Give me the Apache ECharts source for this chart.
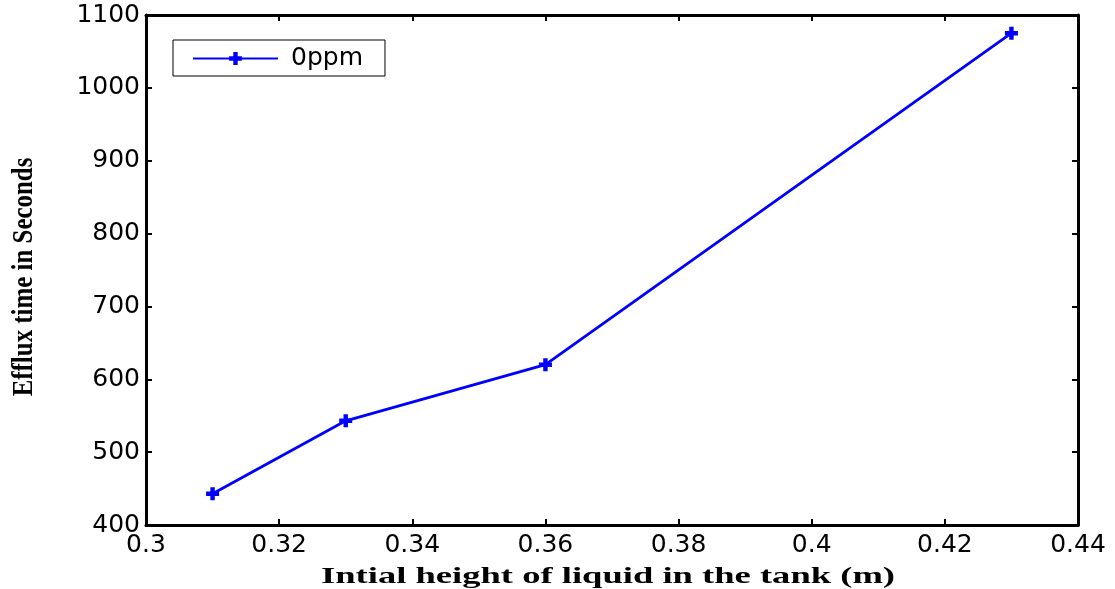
<!DOCTYPE html>
<html><head><meta charset="utf-8">
<script src="https://cdn.jsdelivr.net/npm/echarts@6/dist/echarts.min.js"></script>
<style>html,body{margin:0;padding:0;background:#fff}#c{width:1115px;height:589px}</style>
</head><body><div id="c"></div>
<script>
const heights = [0.31, 0.33, 0.36, 0.43];
const effluxTimes = [443, 543, 620, 1075];
const seriesName = '0ppm';
const xTitle = 'Intial height of liquid in the tank (m)';
const yTitle = 'Efflux time in Seconds';

const chart = echarts.init(document.getElementById('c'));
const marker = 'path://M3.3,0H6.7V3.3H10V6.7H6.7V10H3.3V6.7H0V3.3H3.3Z';
const labelFont = {fontFamily: 'DejaVu Sans', fontSize: 25, color: '#000'};
chart.setOption({
  animation: false,
  backgroundColor: '#fff',
  grid: {left: 146, right: 37, top: 15, bottom: 64},
  legend: {
    left: 173, top: 40,
    data: [seriesName],
    itemWidth: 85, itemHeight: 16, itemGap: 0,
    padding: [6, 22, 5, 19],
    borderColor: '#000', borderWidth: 1,
    textStyle: {fontFamily: 'DejaVu Sans', fontSize: 25, color: '#000', padding: [0,0,0,8]}
  },
  xAxis: [{
    type: 'value', min: 0.3, max: 0.44, interval: 0.02,
    axisLine: {lineStyle: {color: '#000', width: 3}},
    axisTick: {inside: true, length: 6, lineStyle: {color: '#000', width: 2}},
    axisLabel: Object.assign({margin: 8, formatter: v => String(+v.toFixed(2))}, labelFont),
    splitLine: {show: false}
  }, {
    type: 'value', min: 0.3, max: 0.44, interval: 0.02, position: 'top',
    axisLine: {lineStyle: {color: '#000', width: 3}},
    axisTick: {inside: true, length: 6, lineStyle: {color: '#000', width: 2}},
    axisLabel: {show: false}, splitLine: {show: false}
  }],
  yAxis: [{
    type: 'value', min: 400, max: 1100, interval: 100,
    axisLine: {show: true, lineStyle: {color: '#000', width: 3}},
    axisTick: {show: true, inside: true, length: 6, lineStyle: {color: '#000', width: 2}},
    axisLabel: Object.assign({margin: 6, formatter: v => String(v)}, labelFont),
    splitLine: {show: false}
  }, {
    type: 'value', min: 400, max: 1100, interval: 100, position: 'right',
    axisLine: {show: true, lineStyle: {color: '#000', width: 3}},
    axisTick: {show: true, inside: true, length: 6, lineStyle: {color: '#000', width: 2}},
    axisLabel: {show: false}, splitLine: {show: false}
  }],
  series: [{
    name: seriesName, type: 'line',
    data: heights.map((h, i) => [h, effluxTimes[i]]),
    symbol: marker, symbolSize: 13, showSymbol: true,
    lineStyle: {color: '#0000ff', width: 2.8},
    itemStyle: {color: '#0000ff'}
  }],
  graphic: [{
    type: 'text', x: 608, y: 577,
    style: {text: xTitle, font: 'bold 23px "Liberation Serif"', fill: '#000', textAlign: 'center', textVerticalAlign: 'middle'},
    scaleX: 1.59
  }, {
    type: 'text', x: 24, y: 277, rotation: Math.PI / 2,
    style: {text: yTitle, font: 'bold 30px "Liberation Serif"', fill: '#000', textAlign: 'center', textVerticalAlign: 'middle'},
    scaleX: 0.83, scaleY: 1
  }]
});
</script></body></html>
